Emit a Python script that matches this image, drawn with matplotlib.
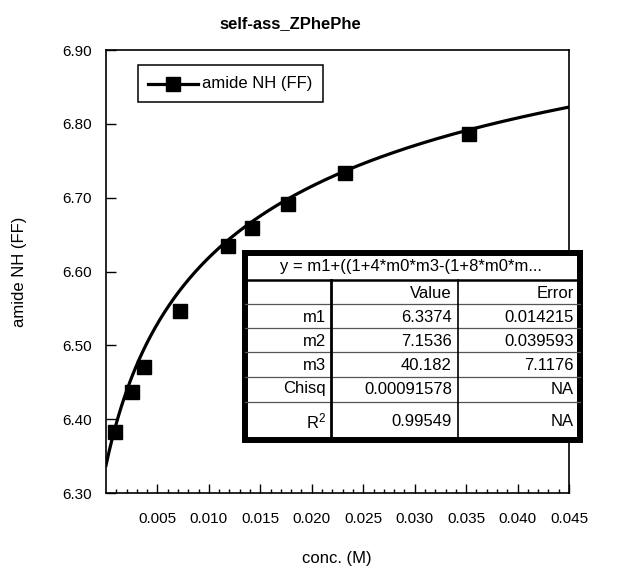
import numpy as np
import matplotlib
matplotlib.use("Agg")
import matplotlib.pyplot as plt
from matplotlib.lines import Line2D
from matplotlib.patches import Rectangle

plt.rcParams['font.family'] = ['Liberation Sans', 'DejaVu Sans']
plt.rcParams['mathtext.fontset'] = 'custom'
plt.rcParams['mathtext.rm'] = 'Liberation Sans'

# Measured amide NH shifts vs. concentration
conc = [0.00085, 0.0025, 0.0037, 0.0072, 0.0119, 0.0142, 0.0177, 0.0232, 0.0353]
shift = [6.383, 6.437, 6.471, 6.546, 6.634, 6.659, 6.691, 6.734, 6.786]

# Fit results (dimerisation model)
param_names = ["m1", "m2", "m3", "Chisq", "R$\\mathregular{^2}$"]
param_values = ["6.3374", "7.1536", "40.182", "0.00091578", "0.99549"]
param_errors = ["0.014215", "0.039593", "7.1176", "NA", "NA"]
m1, m2, m3 = 6.3374, 7.1536, 40.182
formula = "y = m1+((1+4*m0*m3-(1+8*m0*m..."

xticks = [0.005, 0.010, 0.015, 0.020, 0.025, 0.030, 0.035, 0.040, 0.045]
yticks = [6.30, 6.40, 6.50, 6.60, 6.70, 6.80, 6.90]

W, H = 628, 568
fig = plt.figure(figsize=(W / 100, H / 100), dpi=100)


def fx(px):
    return px / W


def fy(py):
    return 1 - py / H


L, R, T, B = 106, 569, 50, 493
ax = fig.add_axes([fx(L), fy(B), fx(R) - fx(L), fy(T) - fy(B)])

c = np.linspace(1e-7, 0.045, 600)
kc = m3 * c
fit = m1 + (m2 - m1) * (1 + 4 * kc - np.sqrt(1 + 8 * kc)) / (4 * kc)
ax.plot(c, fit, color='black', lw=2.3, zorder=3)
ax.plot(conc, shift, ls='none', marker='s', ms=9.5, color='black', zorder=4)

ax.set_xlim(0, 0.045)
ax.set_ylim(6.30, 6.90)
ax.set_xticks(xticks)
ax.set_xticklabels([f"{v:.3f}" for v in xticks])
ax.set_xticks(np.arange(0.001, 0.045, 0.001), minor=True)
ax.set_yticks(yticks)
ax.set_yticklabels([f"{v:.2f}" for v in yticks])
ax.tick_params(axis='x', which='major', direction='in', length=6.5, width=1.0,
               labelsize=11, pad=13.5)
ax.tick_params(axis='x', which='minor', direction='in', length=3, width=1.0)
ax.tick_params(axis='y', which='major', direction='in', length=7, width=1.0,
               labelsize=11, pad=10)
for sp in ax.spines.values():
    sp.set_linewidth(1.2)

fig.text(fx(290), fy(24), "self-ass_ZPhePhe", ha='center', va='center',
         fontsize=12, fontweight='bold')
fig.text(fx(337), fy(558), "conc. (M)", ha='center', va='center', fontsize=12)
fig.text(fx(20), fy(272), "amide NH (FF)", ha='center', va='center',
         fontsize=12, rotation=90)

# Legend box
fig.patches.append(Rectangle((fx(138), fy(102)), fx(323) - fx(138), fy(65) - fy(102),
                             transform=fig.transFigure, fill=False, ec='black', lw=1.1))
fig.lines.append(Line2D([fx(148), fx(198)], [fy(83.5), fy(83.5)], transform=fig.transFigure,
                        color='black', lw=2.3))
fig.lines.append(Line2D([fx(173)], [fy(83.5)], transform=fig.transFigure, color='black',
                        marker='s', ms=9.5, ls='none'))
fig.text(fx(202), fy(83.5), "amide NH (FF)", ha='left', va='center', fontsize=12)

# Fit parameter table
tl, tr, tt, tb = 245, 580, 253, 440
c1, c2 = 331, 458
fig.patches.append(Rectangle((fx(tl), fy(tb)), fx(tr) - fx(tl), fy(tt) - fy(tb),
                             transform=fig.transFigure, fc='white', ec='black', lw=4.3,
                             zorder=5))
rows = [280, 304, 328, 352, 377, 402]
fig.lines.append(Line2D([fx(tl), fx(tr)], [fy(rows[0])] * 2, transform=fig.transFigure,
                        color='black', lw=1.8, zorder=6))
for r in rows[1:]:
    fig.lines.append(Line2D([fx(tl), fx(tr)], [fy(r)] * 2, transform=fig.transFigure,
                            color='#555555', lw=0.9, zorder=6))
fig.lines.append(Line2D([fx(c1)] * 2, [fy(rows[0]), fy(tb)], transform=fig.transFigure,
                        color='black', lw=2.0, zorder=6))
fig.lines.append(Line2D([fx(c2)] * 2, [fy(rows[0]), fy(tb)], transform=fig.transFigure,
                        color='black', lw=1.2, zorder=6))

tkw = dict(fontsize=12, va='center', zorder=7)
fig.text(fx(411), fy(267), formula, ha='center', **tkw)
fig.text(fx(452), fy(293), "Value", ha='right', **tkw)
fig.text(fx(574), fy(293), "Error", ha='right', **tkw)
centers = [317, 341, 365, 389, 421]
for yc, nm, val, err in zip(centers, param_names, param_values, param_errors):
    fig.text(fx(326), fy(yc), nm, ha='right', **tkw)
    fig.text(fx(452), fy(yc), val, ha='right', **tkw)
    fig.text(fx(574), fy(yc), err, ha='right', **tkw)

fig.savefig("out.png", dpi=100)
